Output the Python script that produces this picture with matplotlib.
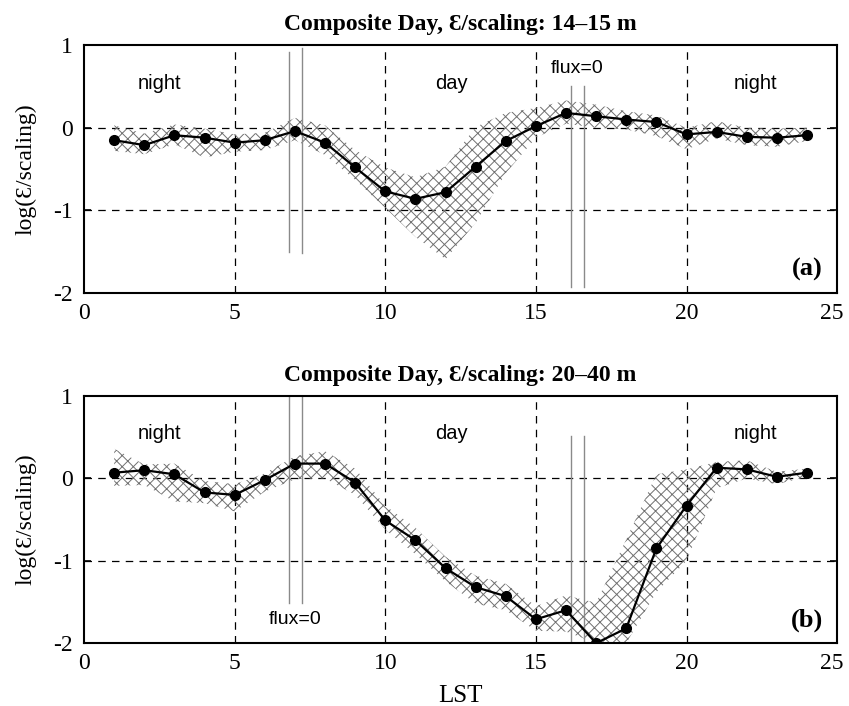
import numpy as np
import matplotlib
matplotlib.use("Agg")
import matplotlib.pyplot as plt
import matplotlib.transforms as mtransforms

plt.rcParams['font.family'] = ['Liberation Serif', 'DejaVu Serif']
plt.rcParams['hatch.linewidth'] = 0.7
plt.rcParams['hatch.color'] = '#707070'

# hours (LST)
hours = np.arange(1, 25)

# panel (a) 14-15 m
eps_a = [-0.15, -0.21, -0.09, -0.12, -0.18, -0.15, -0.04, -0.18, -0.48, -0.77, -0.86, -0.78,
         -0.47, -0.16, 0.02, 0.18, 0.14, 0.10, 0.07, -0.08, -0.05, -0.11, -0.12, -0.09]
hi_a = [0.03, -0.07, 0.04, -0.01, -0.08, -0.06, 0.12, 0.03, -0.27, -0.48, -0.60, -0.47,
        0.01, 0.18, 0.24, 0.33, 0.28, 0.20, 0.15, 0.00, 0.08, 0.00, -0.01, 0.00]
lo_a = [-0.28, -0.32, -0.20, -0.36, -0.29, -0.27, -0.15, -0.33, -0.63, -0.97, -1.32, -1.59,
        -1.15, -0.55, -0.12, 0.05, 0.00, -0.02, -0.10, -0.26, -0.13, -0.21, -0.23, -0.16]

# panel (b) 20-40 m
eps_b = [0.07, 0.10, 0.05, -0.17, -0.20, -0.02, 0.18, 0.18, -0.05, -0.51, -0.75, -1.09,
         -1.32, -1.43, -1.71, -1.60, -2.00, -1.82, -0.85, -0.33, 0.13, 0.11, 0.02, 0.07]
hi_b = [0.36, 0.17, 0.18, -0.03, -0.07, 0.06, 0.27, 0.33, 0.12, -0.33, -0.60, -0.95,
        -1.18, -1.28, -1.55, -1.42, -1.51, -0.74, 0.05, 0.11, 0.20, 0.22, 0.08, 0.12]
lo_b = [-0.09, -0.08, -0.28, -0.30, -0.40, -0.16, -0.01, 0.00, -0.20, -0.62, -0.92, -1.25,
        -1.52, -1.60, -1.85, -1.86, -2.00, -2.00, -1.38, -1.00, -0.12, 0.00, -0.07, 0.02]

# flux=0 lines: (x, top, bottom)
flux_a = [(6.82, 0.92, -1.5), (7.22, 0.97, -1.51), (16.18, 0.51, -1.93), (16.61, 0.51, -1.93)]
flux_b = [(6.82, 0.99, -1.51), (7.22, 0.99, -1.51), (16.18, 0.52, -2.0), (16.61, 0.52, -2.0)]

titles = ['Composite Day, \u0190/scaling: 14\u201315 m', 'Composite Day, \u0190/scaling: 20\u201340 m']
tags = ['(a)', '(b)']
flux_label_pos = [(16.36, 0.72), (7.02, -1.71)]

fig = plt.figure(figsize=(8.49, 7.06), dpi=100)
ax_a = fig.add_axes([0.099, 0.585, 0.887, 0.351])
ax_b = fig.add_axes([0.099, 0.089, 0.887, 0.350])

sans = ['Liberation Sans', 'DejaVu Sans']

panels = [(ax_a, eps_a, hi_a, lo_a, flux_a), (ax_b, eps_b, hi_b, lo_b, flux_b)]
for i, (ax, e, hi, lo, flux) in enumerate(panels):
    ax.fill_between(hours, lo, hi, facecolor='none', edgecolor='#707070',
                    hatch='xxx', linewidth=0, zorder=1)
    for xv in [5, 10, 15, 20]:
        ax.axvline(xv, color='black', lw=0.9, ls=(0, (6, 5)), zorder=0)
    for yv in [0, -1]:
        ax.axhline(yv, color='black', lw=0.9, ls=(0, (6, 5)), zorder=0)
    for xv, top, bot in flux:
        ax.plot([xv, xv], [bot, top], color='#8a8a8a', lw=1.0, zorder=2)
    ax.plot(hours, e, color='black', lw=1.6, marker='o', ms=7, zorder=3)

    ax.set_xlim(0, 25)
    ax.set_ylim(-2, 1)
    ax.set_xticks([0, 5, 10, 15, 20, 25])
    ax.set_yticks([-2, -1, 0, 1])
    ax.set_yticklabels(['-2', '-1', '0', '1'])
    ax.tick_params(axis='x', labelsize=17, length=0, pad=7)
    ax.tick_params(axis='y', labelsize=17, length=5, width=1.2, direction='in',
                   right=True, pad=8)
    for s in ax.spines.values():
        s.set_linewidth(1.5)
    ax.set_title(titles[i], fontsize=17, fontweight='bold', pad=11)
    ax.set_ylabel('log(\u0190/scaling)', fontsize=17, labelpad=12)

    # keep the last x label inside the picture
    last = ax.get_xticklabels()[-1]
    last.set_transform(last.get_transform() +
                       mtransforms.ScaledTranslation(-4 / 72, 0, fig.dpi_scale_trans))

    ax.text(2.5, 0.54, 'night', family=sans, fontsize=14.5, ha='center', va='center')
    ax.text(12.2, 0.54, 'day', family=sans, fontsize=14.5, ha='center', va='center')
    ax.text(22.3, 0.54, 'night', family=sans, fontsize=14.5, ha='center', va='center')
    fx, fy = flux_label_pos[i]
    ax.text(fx, fy, 'flux=0', family=sans, fontsize=14, ha='center', va='center')
    ax.text(24.0, -1.72, tags[i], fontsize=19, fontweight='bold', ha='center', va='center')

ax_b.set_xlabel('LST', fontsize=18, labelpad=8)

fig.savefig('out.png', dpi=100)
